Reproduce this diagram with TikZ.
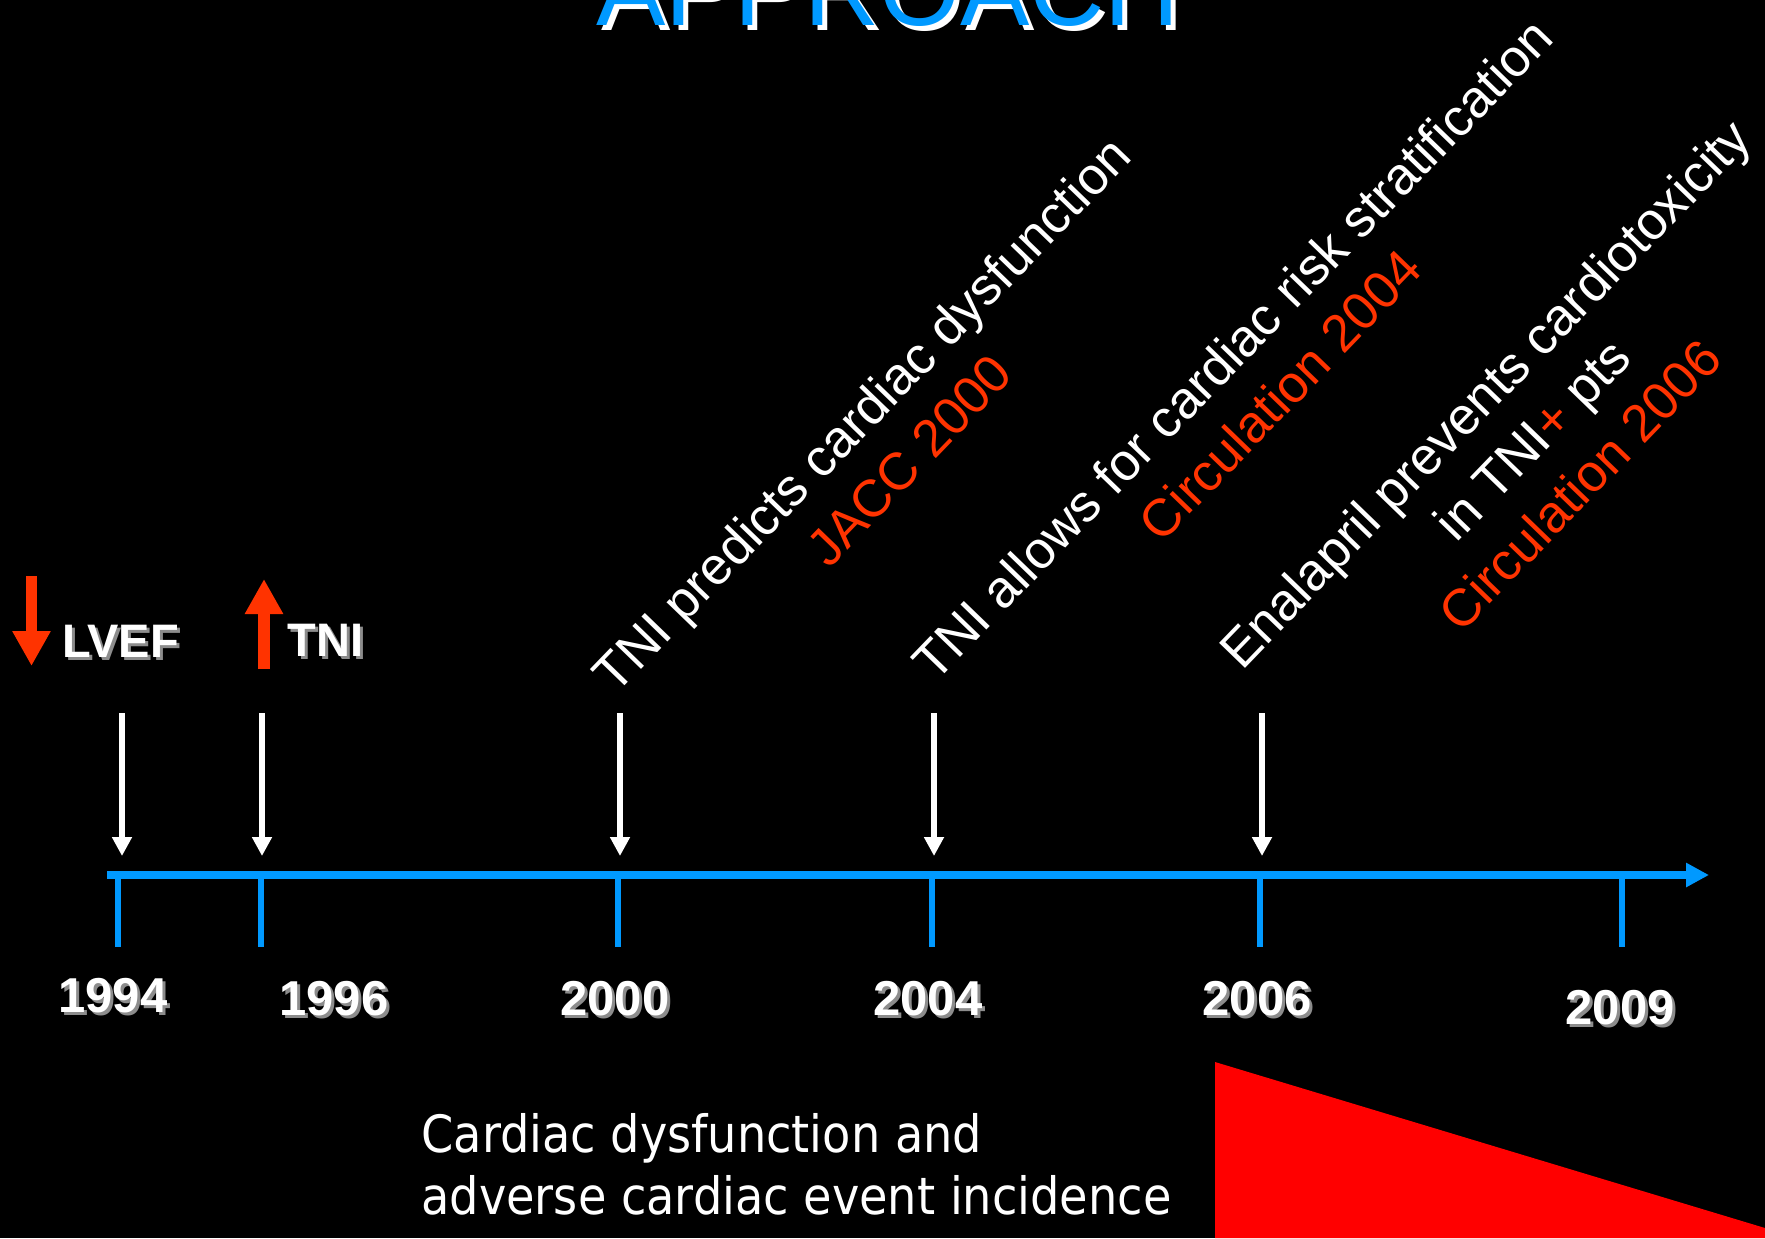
\documentclass[tikz,border=0pt]{standalone}
\usepackage{fontspec}
\setmainfont{Liberation Sans}
\newfontfamily\condfont{DejaVu Sans Condensed}
\usetikzlibrary{arrows.meta}
\definecolor{tlblue}{HTML}{0099FF}
\definecolor{pubred}{HTML}{FF3300}
\definecolor{wedgered}{HTML}{FF0000}
\definecolor{shgray}{HTML}{8C8C8C}
\newcommand{\dropsh}[4][1.5pt]{\rlap{\hspace*{#1}\raisebox{-#1}{\color{#3}#4}}{\color{#2}#4}}

\begin{document}
\begin{tikzpicture}[x=0.5pt, y=-0.5pt,
  pub/.style={rotate=46, align=center, text=white, inner sep=0pt,
              font=\fontsize{26.2pt}{33pt}\selectfont},
  yearlbl/.style={anchor=base, inner sep=0pt,
                  font=\bfseries\fontsize{24.5pt}{28pt}\selectfont},
  marker/.style={anchor=base west, inner sep=0pt,
                 font=\bfseries\fontsize{23.5pt}{28pt}\selectfont},
  timeaxis/.style={draw=tlblue, line width=4pt,
                   -{Triangle[length=11.5pt, width=11.5pt]}},
  tickln/.style={draw=tlblue, line width=3.2pt},
  evt/.style={draw=white, line width=3pt,
              -{Triangle[length=9.5pt, width=9.5pt]}},
  trend/.style={draw=pubred, line width=5.8pt,
                -{Triangle[length=17.5pt, width=18pt]}},
]
  \useasboundingbox (0,0) rectangle (1765,1238);
  \clip (0,0) rectangle (1765,1238);
  \fill[black] (0,0) rectangle (1765,1238);

  \node[anchor=base, inner sep=0pt, font=\fontsize{52pt}{60pt}\selectfont]
    (title) at (888,25) {\dropsh[2.5pt]{tlblue}{white}{APPROACH}};

  % timeline
  \foreach \x/\yr in {118/1994, 261/1996, 618/2000, 932/2004, 1260/2006, 1622/2009} {
    \coordinate (tk\yr) at (\x,875);
    \coordinate (tb\yr) at (\x,947);
    \draw[tickln] (tk\yr) -- (tb\yr);
  }
  \coordinate (ax0) at (107,875);
  \coordinate (ax1) at (1709,875);
  \draw[timeaxis] (ax0) -- (ax1);

  \foreach \x/\y/\yr in {113/1012/1994, 334/1015/1996, 615/1015/2000,
                         928/1015/2004, 1257/1015/2006, 1620/1024/2009}
    \node[yearlbl] (yr\yr) at (\x,\y) {\dropsh{white}{shgray}{\yr}};

  \foreach \x/\yr in {122/1994, 262/1996, 620/2000, 934/2004, 1262/2006} {
    \coordinate (et\yr) at (\x,713);
    \coordinate (eb\yr) at (\x,856);
    \draw[evt] (et\yr) -- (eb\yr);
  }

  % markers
  \node[marker] (lvef) at (62,657) {\dropsh{white}{shgray}{LVEF}};
  \node[marker] (tni) at (287,656) {\dropsh{white}{shgray}{TNI}};
  \coordinate (lvefa) at (31.5,576);
  \coordinate (lvefb) at (31.5,666);
  \draw[trend] (lvefa) -- (lvefb);
  \coordinate (tnia) at (264,669);
  \coordinate (tnib) at (264,579);
  \draw[trend] (tnia) -- (tnib);

  % studies
  \node[pub] (jacc) at (885,437)
    {TNI predicts cardiac dysfunction\\\textcolor{pubred}{JACC 2000}};
  \node[pub] (circ04) at (1256,372)
    {TNI allows for cardiac risk stratification\\\textcolor{pubred}{Circulation 2004}};
  \node[pub] (circ06) at (1532,439)
    {Enalapril prevents cardiotoxicity\\in TNI\textcolor{pubred}{+} pts\\
     \textcolor{pubred}{Circulation 2006}};

  \node[anchor=north west, align=left, inner sep=0pt, text=white,
        font=\condfont\fontsize{25.7pt}{31pt}\selectfont] (incid) at (421,1113)
    {Cardiac dysfunction and\\adverse cardiac event incidence};
  \fill[wedgered] (1215,1062) -- (1765,1228) -- (1765,1238) -- (1215,1238) -- cycle;
\end{tikzpicture}
\end{document}
